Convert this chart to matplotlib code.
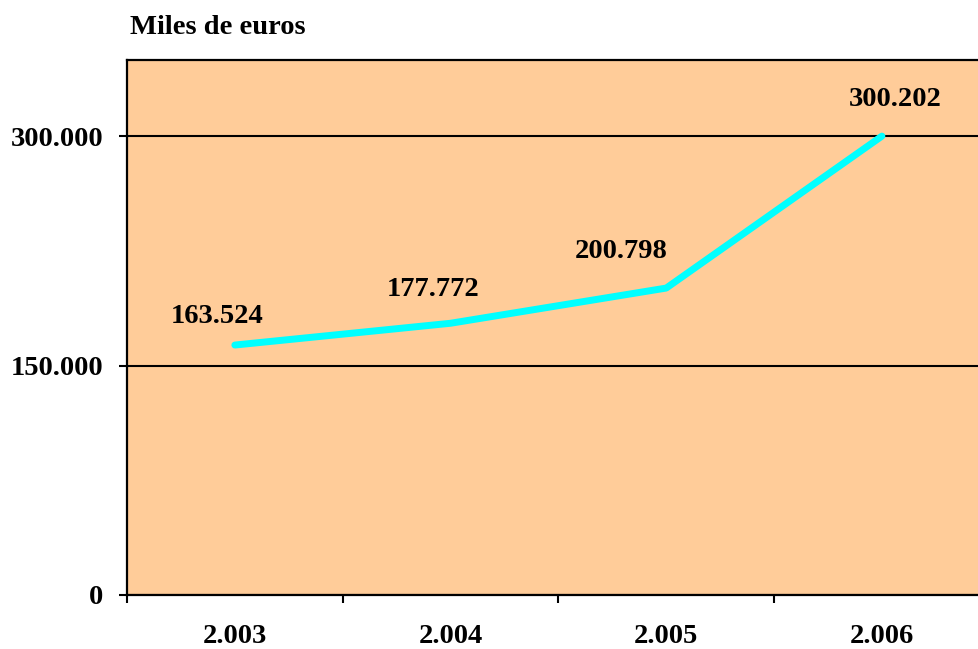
import matplotlib.pyplot as plt
import numpy as np
from matplotlib.ticker import FixedLocator, FuncFormatter

years = ['2.003', '2.004', '2.005', '2.006']
values = [163524, 177772, 200798, 300202]
y_ticks = [0, 150000, 300000]

# label offsets in pixels (dx, dy), labels were moved by hand in the original
label_offsets = [(-18, 29), (-17, 34), (-45, 37), (13, 37)]

plt.rcParams['font.family'] = ['Liberation Serif', 'DejaVu Serif']
plt.rcParams['font.weight'] = 'bold'
fs = 20.5

def fmt(v, pos=None):
    return '{:,.0f}'.format(v).replace(',', '.')

fig = plt.figure(figsize=(9.79, 6.49), dpi=100)
W, H = 979, 649
ax = fig.add_axes([127 / W, (H - 595) / H, 1 - 127 / W, (595 - 60) / H])
ax.set_facecolor('#FFCC99')

x = np.arange(len(values))
ax.plot(x, values, color='#00FFFF', linewidth=5, solid_capstyle='round', zorder=3)

for xi, v, (dx, dy) in zip(x, values, label_offsets):
    ax.annotate(fmt(v), (xi, v), xytext=(dx * 72 / 100, dy * 72 / 100),
                textcoords='offset points', ha='center', va='center',
                fontsize=fs, fontweight='bold', color='black')

ax.set_xlim(-0.5, 3.45)
ax.set_ylim(0, 350000)

ax.yaxis.set_major_locator(FixedLocator(y_ticks))
ax.yaxis.set_major_formatter(FuncFormatter(fmt))
ax.grid(axis='y', color='black', linewidth=1.5)
ax.set_axisbelow(True)

ax.xaxis.set_major_locator(FixedLocator([-0.5, 0.5, 1.5, 2.5, 3.5]))
ax.xaxis.set_major_formatter(FuncFormatter(lambda v, p: ''))
ax.xaxis.set_minor_locator(FixedLocator(list(x)))
ax.set_xticklabels(years, minor=True)

ax.tick_params(axis='both', which='major', direction='out', length=6,
               width=1.5, color='black')
ax.tick_params(axis='y', which='major', pad=11, labelsize=fs)
ax.tick_params(axis='x', which='minor', length=0, pad=21, labelsize=fs)

for lab in ax.get_yticklabels() + ax.get_xticklabels(minor=True):
    lab.set_fontweight('bold')

ax.spines['right'].set_visible(False)
for s in ['left', 'top', 'bottom']:
    ax.spines[s].set_linewidth(1.6)
    ax.spines[s].set_color('black')

fig.text(130 / W, 1 - 28 / H, 'Miles de euros', ha='left', va='center',
         fontsize=fs, fontweight='bold')

fig.savefig('out.png', dpi=100)
